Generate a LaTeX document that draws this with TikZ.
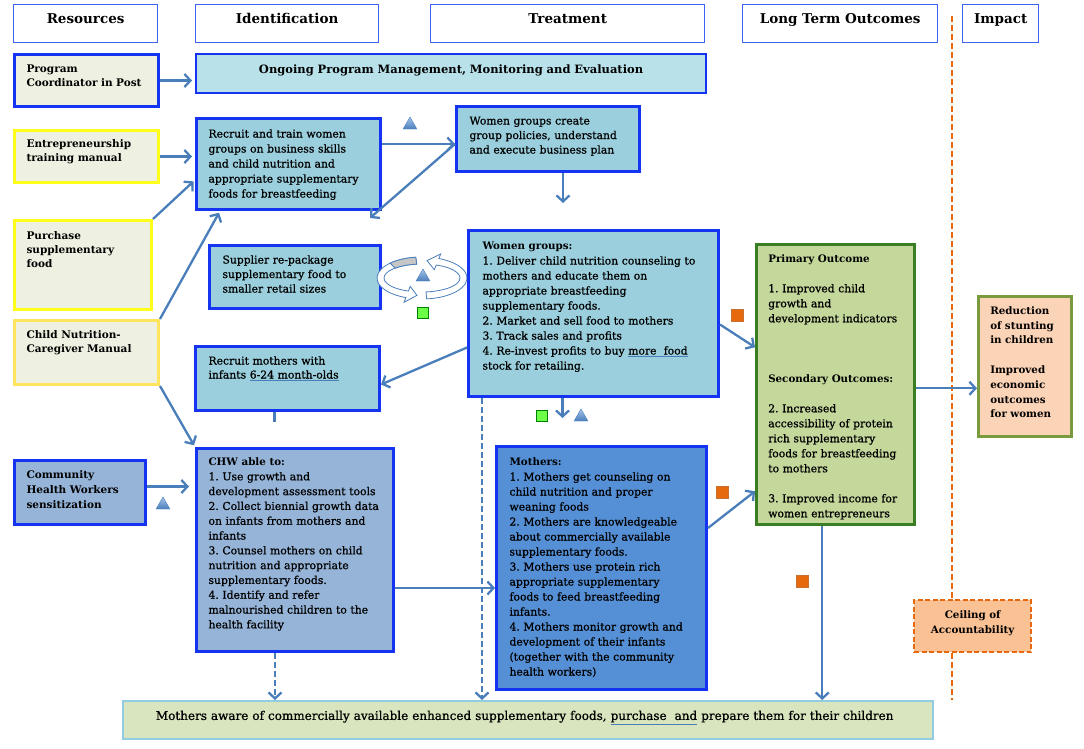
\documentclass[tikz,border=0pt]{standalone}
\usepackage{fontspec}
\setmainfont{DejaVu Serif}[UprightFeatures={FakeBold=0.8}]
\usetikzlibrary{arrows.meta,calc,shapes.geometric}

\definecolor{arrowblue}{HTML}{4A7EBB}
\definecolor{boxblue}{HTML}{1434F2}
\definecolor{hdrblue}{HTML}{3C64F0}
\definecolor{resfill}{HTML}{EEF0E1}
\definecolor{resyellow}{HTML}{FFFF1A}
\definecolor{childyellow}{HTML}{FFE45C}
\definecolor{aqua}{HTML}{9BCFDD}
\definecolor{ongoingfill}{HTML}{B8E1E9}
\definecolor{chwfill}{HTML}{95B4D8}
\definecolor{mothfill}{HTML}{5590D6}
\definecolor{outfill}{HTML}{C5D89C}
\definecolor{outgreen}{HTML}{3A7E24}
\definecolor{impfill}{HTML}{FBD3B6}
\definecolor{impgreen}{HTML}{7A9A3E}
\definecolor{ceilfill}{HTML}{FAC195}
\definecolor{ceilorange}{HTML}{E7690E}
\definecolor{awarefill}{HTML}{D8E5BE}
\definecolor{awareline}{HTML}{92CCE0}
\definecolor{gsqcolor}{HTML}{6CFF47}
\definecolor{trilight}{HTML}{A6C4EA}

\newcommand{\bhead}[1]{{\fontsize{10.3}{15}\selectfont\bfseries #1}}
\newcommand{\spell}[1]{{\color{arrowblue}\underline{\color{black}#1}}}

\begin{document}
\frenchspacing
\begin{tikzpicture}[x=1pt,y=-1pt,
  every node/.style={anchor=north west, inner ysep=0pt, align=left},
  hdr/.style={draw=hdrblue, line width=1.3pt, fill=white, inner xsep=4pt, align=center,
    font=\fontsize{13.5}{16}\selectfont\bfseries},
  resbox/.style={line width=3pt, fill=resfill, inner xsep=12pt,
    font=\fontsize{10.5}{14}\selectfont\bfseries},
  aquabox/.style={draw=boxblue, line width=3pt, fill=aqua, inner xsep=13pt,
    font=\fontsize{10.8}{15}\selectfont},
  flow/.style={draw=arrowblue, line width=2.3pt, -{Straight Barb[length=6pt,width=13pt]}},
  dflow/.style={flow, dash pattern=on 6pt off 3pt},
  ringarrow/.style={draw=arrowblue, line width=0.8pt, fill=white},
  triangle/.style={anchor=center, regular polygon, regular polygon sides=3, minimum size=16pt,
    inner sep=0pt, top color=trilight, bottom color=arrowblue, draw=arrowblue, line width=0.4pt},
  greensq/.style={anchor=center, minimum size=11pt, inner sep=0pt, fill=gsqcolor, draw=green!50!black, line width=0.5pt},
  orangesq/.style={anchor=center, minimum size=12pt, inner sep=0pt, fill=ceilorange, draw=ceilorange!70!gray, line width=0.5pt}
]
\useasboundingbox (0,0) rectangle (1084,748);

% column headers
\node[hdr, text width=136pt, text height=19pt, text depth=19pt] (hres) at (13,4) {Resources};
\node[hdr, text width=175pt, text height=19pt, text depth=19pt] (hident) at (195,4) {Identification};
\node[hdr, text width=266pt, text height=19pt, text depth=19pt] (htreat) at (430,4) {Treatment};
\node[hdr, text width=187pt, text height=19pt, text depth=19pt] (hlto) at (742,4) {Long Term Outcomes};
\node[hdr, text width=68pt, text height=19pt, text depth=19pt] (himpact) at (962,4) {Impact};

% resources
\node[resbox, draw=boxblue, text width=120pt, text height=18pt, text depth=34pt] (progcoord) at (13,53)
  {Program\\Coordinator in Post};
\node[resbox, draw=resyellow, text width=120pt, text height=17pt, text depth=35pt] (entre) at (13,129)
  {Entrepreneurship\\training manual};
\node[resbox, draw=resyellow, text width=113pt, text height=19pt, text depth=70pt] (purchase) at (13,219)
  {Purchase\\supplementary\\food};
\node[resbox, draw=childyellow, text width=120pt, text height=18pt, text depth=46pt] (childman) at (13,319)
  {Child Nutrition-\\Caregiver Manual};
\node[resbox, draw=boxblue, fill=chwfill, text width=107pt, text height=18pt, text depth=46pt,
  font=\fontsize{10.5}{15}\selectfont\bfseries] (chwsens) at (13,459)
  {Community\\Health Workers\\sensitization};

% identification and treatment
\node[draw=boxblue, line width=2.2pt, fill=ongoingfill, inner xsep=4pt, align=center, text width=502pt,
  text height=19pt, text depth=20pt, font=\fontsize{11.5}{14}\selectfont\bfseries] (ongoing) at (195,53)
  {Ongoing Program Management, Monitoring and Evaluation};
\node[aquabox, inner xsep=12pt, text width=160pt, text height=19pt, text depth=72pt] (recruit) at (195,117)
  {Recruit and train women\\groups on business skills\\and child nutrition and\\appropriate supplementary\\foods for breastfeeding};
\node[aquabox, text width=157pt, text height=18pt, text depth=47pt,
  font=\fontsize{10.8}{14.5}\selectfont] (wcreate) at (455,105)
  {Women groups create\\group policies, understand\\and execute business plan};
\node[aquabox, text width=145pt, text height=18pt, text depth=45pt,
  font=\fontsize{10.8}{14.5}\selectfont] (supplier) at (208,244)
  {Supplier re-package\\supplementary food to\\smaller retail sizes};
\node[aquabox, text width=158pt, text height=18pt, text depth=46pt,
  font=\fontsize{10.8}{14}\selectfont] (rmothers) at (194,345)
  {Recruit mothers with\\infants \spell{6-24 month-olds}};
\node[aquabox, inner xsep=14pt, text width=222pt, text height=19pt, text depth=147pt] (wgroups) at (467,229)
  {\bhead{Women groups:}\\1. Deliver child nutrition counseling to\\mothers and educate them on\\appropriate breastfeeding\\supplementary foods.\\2. Market and sell food to mothers\\3. Track sales and profits\\4. Re-invest profits to buy \spell{more\ \ food}\\stock for retailing.};
\node[aquabox, fill=chwfill, inner xsep=12pt, text width=173pt, text height=17pt, text depth=186pt,
  font=\fontsize{10.8}{14.8}\selectfont] (chw) at (195,447)
  {\bhead{CHW able to:}\\1. Use growth and\\development assessment tools\\2. Collect biennial growth data\\on infants from mothers and\\infants\\3. Counsel mothers on child\\nutrition and appropriate\\supplementary foods.\\4. Identify and refer\\malnourished children to the\\health facility};
\node[aquabox, fill=mothfill, text width=184pt, text height=19pt, text depth=224pt] (mothers) at (495,445)
  {\bhead{Mothers:}\\1. Mothers get counseling on\\child nutrition and proper\\weaning foods\\2. Mothers are knowledgeable\\about commercially available\\supplementary foods.\\3. Mothers use protein rich\\appropriate supplementary\\foods to feed breastfeeding\\infants.\\4. Mothers monitor growth and\\development of their infants\\(together with the community\\health workers)};

% outcomes and impact
\node[draw=outgreen, line width=2.5pt, fill=outfill, inner xsep=12pt, text width=134pt, text height=18pt,
  text depth=262pt, font=\fontsize{10.8}{15}\selectfont] (outcomes) at (755,243)
  {\bhead{Primary Outcome}\\[15pt]1. Improved child\\growth and\\development indicators\\[45pt]\bhead{Secondary Outcomes:}\\[15pt]2. Increased\\accessibility of protein\\rich supplementary\\foods for breastfeeding\\to mothers\\[15pt]3. Improved income for\\women entrepreneurs};
\node[draw=impgreen, line width=2.5pt, fill=impfill, inner xsep=12pt, text width=69pt, text height=18pt,
  text depth=122pt, font=\fontsize{10.3}{14.8}\selectfont\bfseries] (impact) at (977,295)
  {Reduction\\of stunting\\in children\\[14.8pt]Improved\\economic\\outcomes\\for women};
\node[draw=ceilorange, line width=2.4pt, dash pattern=on 5pt off 2.5pt, fill=ceilfill, inner xsep=4pt,
  align=center, text width=109pt, text height=18pt, text depth=34pt,
  font=\fontsize{10.3}{15}\selectfont\bfseries] (ceiling) at (913,599)
  {Ceiling of\\Accountability};
\node[draw=awareline, line width=1.8pt, fill=awarefill, inner xsep=20pt, text width=770pt, text height=19pt,
  text depth=19pt, font=\fontsize{12}{14}\selectfont] (aware) at (122,700)
  {\hspace*{13pt}Mothers aware of commercially available enhanced supplementary foods, \spell{purchase\ \ and} prepare them for their children};

% ceiling line
\coordinate (ceiltop) at (952,16);
\coordinate (ceilbot) at (952,700);
\draw[ceilorange, line width=2.6pt, dash pattern=on 6pt off 3pt] (ceiltop) -- (ceiltop |- ceiling.north);
\draw[ceilorange, line width=2.6pt, dash pattern=on 6pt off 3pt] (ceiltop |- ceiling.south) -- (ceilbot);

% cycle arrows
\coordinate (cyc) at (422,278);
\filldraw[ringarrow] ($(cyc)+(262:45 and 21)$) arc[start angle=262, end angle=111, x radius=45, y radius=21]
  -- ($(cyc)+(111:50 and 26)$) -- ($(cyc)+(97:41.5 and 17.5)$) -- ($(cyc)+(111:33 and 9)$)
  -- ($(cyc)+(111:38 and 14)$) arc[start angle=111, end angle=262, x radius=38, y radius=14] -- cycle;
\filldraw[ringarrow, fill=gray!45] ($(cyc)+(262:45 and 21)$) arc[start angle=262, end angle=225, x radius=45, y radius=21]
  -- ($(cyc)+(225:38 and 14)$) arc[start angle=225, end angle=262, x radius=38, y radius=14] -- cycle;
\filldraw[ringarrow] ($(cyc)+(84:45 and 21)$) arc[start angle=84, end angle=-68, x radius=45, y radius=21]
  -- ($(cyc)+(-68:50 and 26)$) -- ($(cyc)+(-83:41.5 and 17.5)$) -- ($(cyc)+(-68:33 and 9)$)
  -- ($(cyc)+(-68:38 and 14)$) arc[start angle=-68, end angle=84, x radius=38, y radius=14] -- cycle;

% connectors
\draw[flow, shorten >=3pt] (progcoord.east) -- (progcoord.east -| ongoing.west);
\draw[flow, shorten >=3pt] (entre.east) -- (entre.east -| recruit.west);
\draw[flow, shorten >=2pt] (purchase.north east) -- ([yshift=-16pt]recruit.west);
\draw[flow, shorten >=2pt] (childman.north east) -- ([xshift=25pt]recruit.south west);
\coordinate (wcin) at ([yshift=-5pt]wcreate.west);
\draw[flow] (recruit.east |- wcin) -- (wcin);
\draw[flow] (wcin) -- ([xshift=-12pt,yshift=-7pt]recruit.south east);
\draw[flow, shorten >=26pt] ([xshift=15pt]wcreate.south) -- ([xshift=15pt]wcreate.south |- wgroups.north);
\draw[flow] ([yshift=-34pt]wgroups.west) -- ([yshift=-6pt]rmothers.east);
\draw[flow, shorten >=27pt] ([xshift=-31pt]wgroups.south) -- ([xshift=-31pt]wgroups.south |- mothers.north);
\draw[flow] ([yshift=-11pt]wgroups.east) -- ([yshift=37pt]outcomes.west);
\draw[arrowblue, line width=2.3pt] ([xshift=-13pt]rmothers.south) -- ++(0,10);
\draw[flow, shorten >=2pt] (childman.south east) -- (chw.north west);
\draw[flow, shorten >=6pt] ([yshift=6pt]chwsens.east) -- ([yshift=6pt]chwsens.east -| chw.west);
\draw[flow] ([yshift=-38pt]chw.east) -- ([yshift=-38pt]chw.east -| mothers.west);
\draw[dflow] ([xshift=-20pt]chw.south) -- ([xshift=-20pt]chw.south |- aware.north);
\draw[dflow] ([xshift=15pt]wgroups.south west) -- ([xshift=15pt]wgroups.south west |- aware.north);
\draw[flow] ([yshift=40pt]mothers.east) -- ([yshift=-107pt]outcomes.west);
\draw[flow] ([xshift=-13pt]outcomes.south) -- ([xshift=-13pt]outcomes.south |- aware.north);
\draw[flow] ([yshift=-4pt]outcomes.east) -- ([yshift=-4pt]outcomes.east -| impact.west);

% markers
\node[triangle] (tri1) at (410,125) {};
\node[triangle] (tri2) at (423,277) {};
\node[triangle] (tri3) at (581,417) {};
\node[triangle] (tri4) at (163,505) {};
\node[greensq] (gsq1) at (423,313) {};
\node[greensq] (gsq2) at (542,416) {};
\node[orangesq] (osq1) at (737,315) {};
\node[orangesq] (osq2) at (722,492) {};
\node[orangesq] (osq3) at (802,581) {};
\end{tikzpicture}
\end{document}
